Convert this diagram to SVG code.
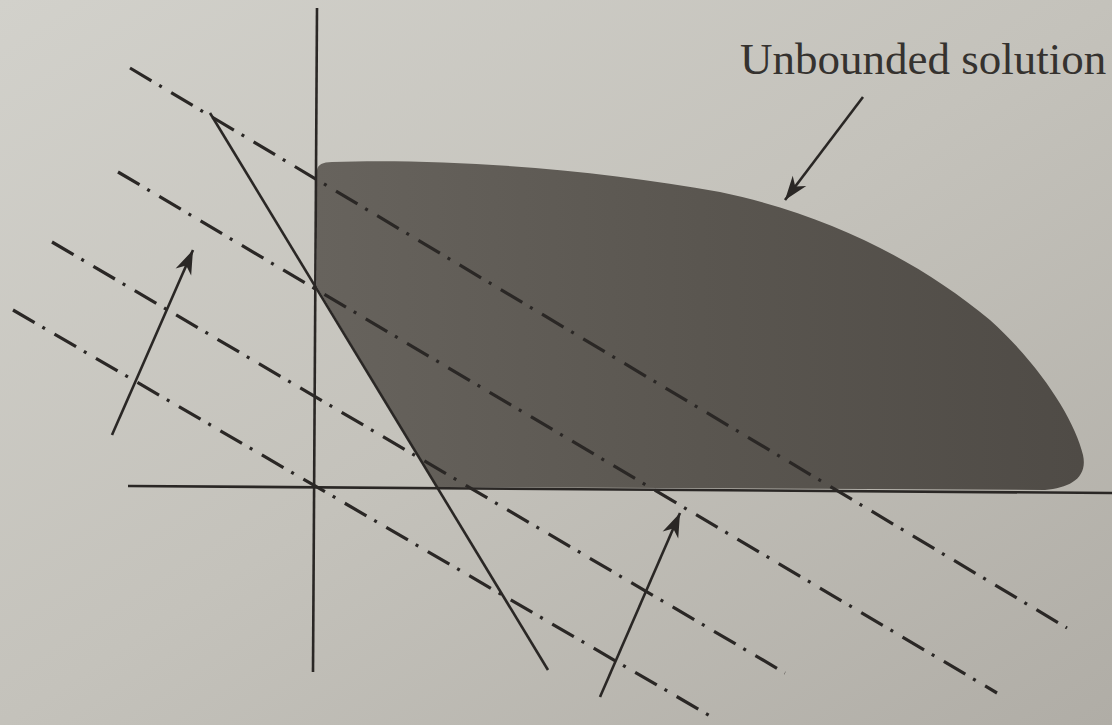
<svg xmlns="http://www.w3.org/2000/svg" width="1112" height="725" viewBox="0 0 1112 725">
  <defs>
    <linearGradient id="bg" x1="0" y1="0" x2="1" y2="1">
      <stop offset="0" stop-color="#d2d1cb"/>
      <stop offset="0.5" stop-color="#c4c2bb"/>
      <stop offset="1" stop-color="#b0ada6"/>
    </linearGradient>
    <linearGradient id="blob" x1="0" y1="0" x2="1" y2="0">
      <stop offset="0" stop-color="#67635d"/>
      <stop offset="0.5" stop-color="#5a5650"/>
      <stop offset="1" stop-color="#4f4b46"/>
    </linearGradient>
    <marker id="arrow" markerUnits="userSpaceOnUse" markerWidth="30" markerHeight="24" refX="0" refY="0" viewBox="-26 -12 30 24" orient="auto">
      <path d="M0,0 L-24,-8.5 L-17,0 L-24,8.5 Z" fill="#2a2725"/>
    </marker>
    <style>
      .axis { stroke: #2a2725; stroke-width: 2.6; fill: none; }
      .solid { stroke: #2a2725; stroke-width: 2.6; fill: none; }
      .dd { stroke: #2a2725; stroke-width: 3.2; fill: none; stroke-dasharray: 25 9 3 11; }
      .arr { stroke: #2a2725; stroke-width: 2.6; fill: none; marker-end: url(#arrow); }
      .label { font-family: "Liberation Serif", "Times New Roman", serif; font-size: 45px; fill: #35322f; }
    </style>
  </defs>
  <rect width="1112" height="725" fill="url(#bg)"/>

  <g id="feasible-region">
    <path d="M317,287 L317,170 Q318,162 332,162 C 450,158 600,170 720,192 C 830,215 920,262 990,320 C 1040,365 1075,420 1083,455 C 1088,478 1070,488 1045,490 L 437,487 Z" fill="url(#blob)"/>
  </g>

  <g id="axes">
    <line class="axis" x1="317" y1="8" x2="313" y2="672"/>
    <line class="axis" x1="128" y1="486" x2="1112" y2="493"/>
  </g>

  <g id="constraint-line">
    <line class="solid" x1="210" y1="113" x2="548" y2="670"/>
  </g>

  <g id="objective-lines">
    <line class="dd" x1="130" y1="68" x2="1067" y2="628"/>
    <line class="dd" x1="118" y1="172" x2="997" y2="693"/>
    <line class="dd" x1="52" y1="242" x2="785" y2="673"/>
    <line class="dd" x1="13" y1="310" x2="717" y2="720"/>
  </g>

  <g id="connectors">
    <line class="arr" x1="112" y1="435" x2="193" y2="250"/>
    <line class="arr" x1="600" y1="697" x2="680" y2="513"/>
    <line class="arr" x1="863" y1="97" x2="785" y2="200"/>
  </g>

  <g id="label">
    <text class="label" x="740" y="74">Unbounded solution</text>
  </g>
</svg>
